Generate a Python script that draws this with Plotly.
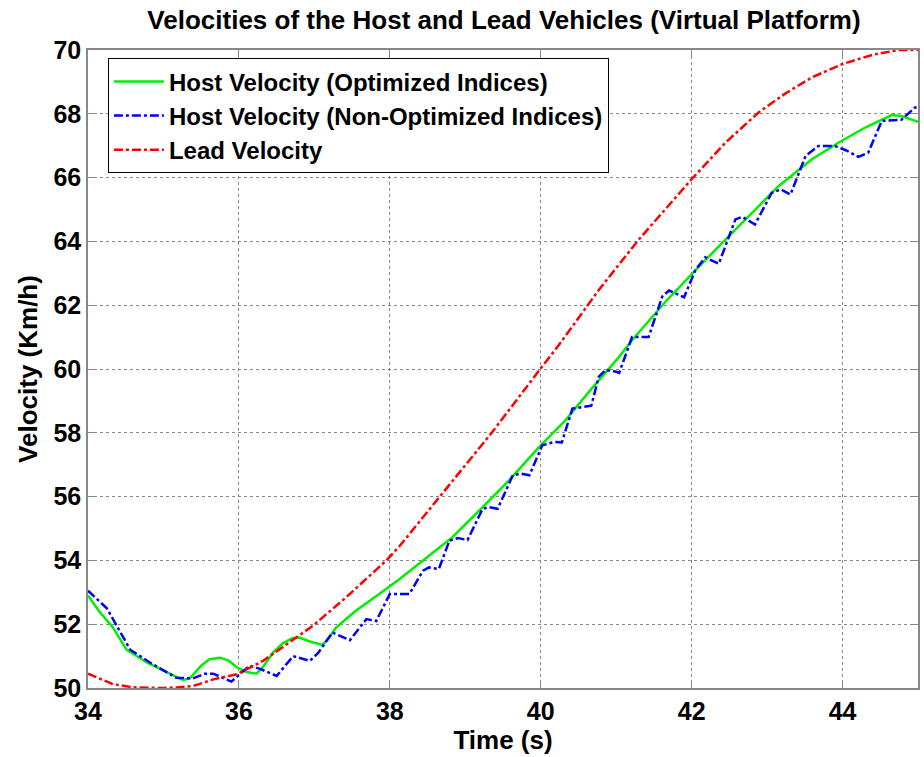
import plotly.graph_objects as go

# Host velocity (optimized indices) - green
t_opt = [34.0, 34.15, 34.33, 34.51, 34.78, 35.04, 35.26, 35.35, 35.5, 35.61, 35.75, 35.87,
         35.97, 36.1, 36.23, 36.3, 36.45, 36.58, 36.7, 36.8, 36.95, 37.11, 37.2, 37.29,
         37.55, 37.86, 38.13, 38.44, 38.83, 39.23, 39.58, 39.98, 40.33, 40.68, 41.01,
         41.21, 41.65, 42.1, 42.54, 42.98, 43.15, 43.59, 43.95, 44.3, 44.65, 44.78, 45.0]
v_opt = [52.9, 52.4, 51.9, 51.2, 50.8, 50.5, 50.25, 50.3, 50.7, 50.9, 50.95, 50.85,
         50.65, 50.5, 50.45, 50.6, 51.1, 51.4, 51.55, 51.58, 51.45, 51.35, 51.6, 51.9,
         52.42, 52.95, 53.42, 54.0, 54.73, 55.67, 56.51, 57.56, 58.4, 59.4, 60.3,
         60.9, 62.1, 63.22, 64.27, 65.3, 65.73, 66.57, 67.1, 67.57, 67.96, 67.93, 67.75]

# Host velocity (non-optimized indices) - blue
t_non = [34.0, 34.25, 34.56, 34.82, 35.17, 35.39, 35.55, 35.66, 35.9, 36.05, 36.14, 36.28,
         36.5, 36.72, 36.94, 37.05, 37.24, 37.47, 37.69, 37.82, 37.95, 38.0, 38.26, 38.44,
         38.52, 38.65, 38.79, 38.9, 39.03, 39.23, 39.32, 39.43, 39.63, 39.74, 39.85, 40.02,
         40.18, 40.28, 40.42, 40.57, 40.67, 40.77, 40.86, 40.99, 41.04, 41.21, 41.43, 41.61,
         41.7, 41.9, 42.05, 42.18, 42.36, 42.58, 42.67, 42.84, 43.06, 43.18, 43.31, 43.51,
         43.68, 43.9, 44.05, 44.21, 44.34, 44.52, 44.78, 44.96, 45.0]
v_non = [53.05, 52.5, 51.2, 50.8, 50.32, 50.3, 50.45, 50.45, 50.2, 50.5, 50.7, 50.6,
         50.38, 51.0, 50.85, 51.1, 51.74, 51.5, 52.16, 52.1, 52.7, 52.95, 52.95, 53.68,
         53.78, 53.73, 54.62, 54.7, 54.64, 55.62, 55.67, 55.62, 56.67, 56.72, 56.67, 57.61,
         57.71, 57.7, 58.76, 58.81, 58.85, 59.76, 59.97, 59.92, 59.88, 61.0, 61.0, 62.27,
         62.46, 62.25, 63.1, 63.5, 63.3, 64.69, 64.77, 64.53, 65.52, 65.63, 65.47, 66.68,
         66.99, 66.99, 66.85, 66.65, 66.78, 67.78, 67.81, 68.2, 68.2]

# Lead velocity - red
t_lead = [34.0, 34.33, 34.6, 34.8, 35.0, 35.2, 35.39, 35.66, 35.97, 36.32, 36.63, 36.98,
          37.42, 37.95, 38.13, 38.66, 39.36, 40.0, 40.24, 40.77, 41.3, 41.76, 42.0, 42.45,
          42.89, 43.25, 43.6, 44.0, 44.4, 44.74, 45.0]
v_lead = [50.45, 50.12, 50.02, 50.0, 50.0, 50.02, 50.06, 50.27, 50.43, 50.85, 51.37, 51.95,
          52.84, 53.99, 54.45, 55.98, 58.03, 60.02, 60.75, 62.48, 64.06, 65.3, 65.95, 67.1,
          68.05, 68.65, 69.15, 69.56, 69.85, 70.0, 70.0]

x_ticks = [34, 36, 38, 40, 42, 44]
y_ticks = [50, 52, 54, 56, 58, 60, 62, 64, 66, 68, 70]

FONT = "Liberation Sans"

fig = go.Figure()
fig.add_trace(go.Scatter(x=t_opt, y=v_opt, mode="lines", name="Host Velocity (Optimized Indices)",
                         line=dict(color="#00ee00", width=2.5, dash="solid")))
fig.add_trace(go.Scatter(x=t_non, y=v_non, mode="lines", name="Host Velocity (Non-Optimized Indices)",
                         line=dict(color="#0000ff", width=2.5, dash="dashdot")))
fig.add_trace(go.Scatter(x=t_lead, y=v_lead, mode="lines", name="Lead Velocity",
                         line=dict(color="#ff0000", width=2.5, dash="dashdot")))

axis_common = dict(
    showgrid=True, gridcolor="#888888", griddash="dot", gridwidth=1,
    showline=True, linecolor="#888888", linewidth=1.5, mirror="ticks",
    ticks="inside", ticklen=7, tickcolor="#888888",
    tickfont=dict(family=FONT, size=25, color="black", weight="bold"),
    zeroline=False,
)

fig.update_layout(
    width=924, height=757,
    margin=dict(l=88, r=4, t=50, b=69),
    paper_bgcolor="white", plot_bgcolor="white",
    title=dict(text="Velocities of the Host and Lead Vehicles (Virtual Platform)",
               x=(88 + 920) / 2 / 924, xanchor="center", y=1 - 20 / 757, yanchor="middle",
               font=dict(family=FONT, size=26, color="black", weight="bold")),
    xaxis=dict(range=[34, 45], tickvals=x_ticks, ticktext=[str(v) for v in x_ticks],
               title=dict(text="Time (s)", standoff=2,
                          font=dict(family=FONT, size=26, color="black", weight="bold")),
               **axis_common),
    yaxis=dict(range=[50, 70], tickvals=y_ticks, ticktext=[str(v) for v in y_ticks],
               title=dict(text="Velocity (Km/h)", standoff=8,
                          font=dict(family=FONT, size=26, color="black", weight="bold")),
               **axis_common),
    legend=dict(x=0.024, y=0.987, xanchor="left", yanchor="top",
                bgcolor="white", bordercolor="black", borderwidth=1,
                font=dict(family=FONT, size=24, color="black", weight="bold"),
                itemwidth=50, tracegroupgap=0),
    showlegend=True,
)

fig.write_html("out.html")
